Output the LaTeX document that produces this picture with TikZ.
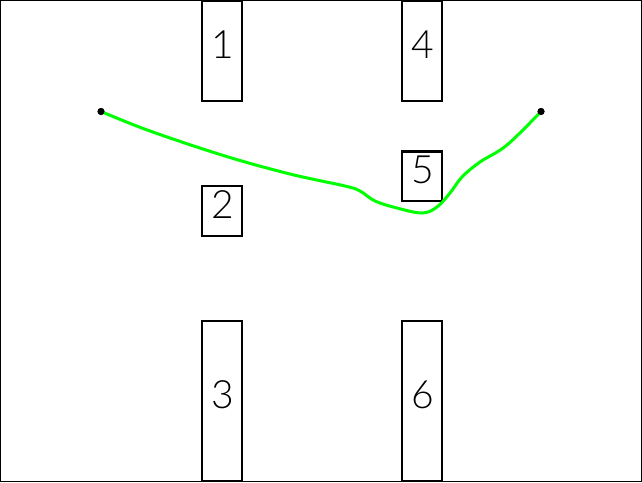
\documentclass[tikz,border=0pt]{standalone}
\usepackage{fontspec}
\setmainfont{Lato Light}
\begin{document}
\begin{tikzpicture}[x=1pt, y=-1pt,
		block/.style={draw, line width=2.4pt, inner sep=0pt, minimum width=40pt, font=\fontsize{39}{39}\selectfont, text height=28pt, text depth=13pt, execute at begin node=\hspace*{3pt}},
		endpoint/.style={circle, fill, inner sep=0pt, minimum size=7pt},
		track/.style={draw={rgb,255:red,0;green,255;blue,0}, line width=3pt, line cap=round}]
	\useasboundingbox (0,0) rectangle (642,482);
	\draw[line width=1pt] (0.5,0.5) rectangle (641,481.5);
	\node[block, minimum height=100.5pt] (one) at (221.7,51) {1};
	\node[block, minimum height=49.5pt] (two) at (221.7,211) {2};
	\node[block, minimum height=160pt] (three) at (221.7,401.2) {3};
	\node[block, minimum height=100.5pt] (four) at (421.7,51) {4};
	\node[block, minimum height=49.5pt] (five) at (421.7,176.2) {5};
	\node[block, minimum height=160pt] (six) at (421.7,401.2) {6};
	\node[endpoint] (start) at (101,111.5) {};
	\node[endpoint] (goal) at (541,111.5) {};
	% the route between the two points
	\draw[track] plot[smooth, tension=0.6] coordinates {(start.center) (150,131) (225,156) (290,174) (345,186) (360,191) (375,201) (397,208) (422,213) (437,207) (450,193) (462,177) (480,162) (507,145) (goal.center)};
	\node[endpoint] at (goal) {};
	\node[endpoint] at (start) {};
\end{tikzpicture}
\end{document}
